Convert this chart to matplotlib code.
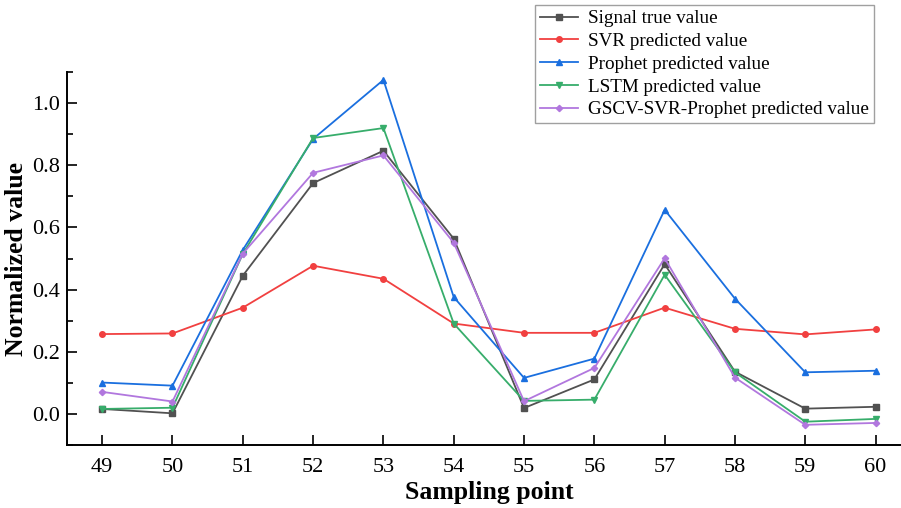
import numpy as np
from matplotlib import pyplot as plt
from matplotlib.ticker import MultipleLocator

# data
points = list(range(49, 61))
signal_true = [0.016, 0.002, 0.445, 0.743, 0.847, 0.564, 0.019, 0.111, 0.482, 0.136, 0.017, 0.023]
svr_pred = [0.257, 0.259, 0.342, 0.477, 0.435, 0.291, 0.261, 0.261, 0.342, 0.274, 0.256, 0.272]
prophet_pred = [0.101, 0.091, 0.528, 0.885, 1.075, 0.376, 0.116, 0.178, 0.657, 0.371, 0.134, 0.139]
lstm_pred = [0.016, 0.020, 0.515, 0.888, 0.920, 0.291, 0.042, 0.046, 0.448, 0.134, -0.025, -0.016]
gscv_pred = [0.071, 0.040, 0.516, 0.776, 0.832, 0.551, 0.041, 0.148, 0.501, 0.117, -0.035, -0.029]

labels = ["Signal true value", "SVR predicted value", "Prophet predicted value",
          "LSTM predicted value", "GSCV-SVR-Prophet predicted value"]
colors = ["#515151", "#F14040", "#1A6FDF", "#37AD6B", "#B177DE"]
markers = ["s", "o", "^", "v", "D"]

plt.rcParams['font.family'] = ['Liberation Serif', 'DejaVu Serif']

fig = plt.figure(figsize=(9.01, 5.08), dpi=100)
# the axes runs a little past the right edge, as in the reference
ax = fig.add_axes([0.0744, 0.124, 0.9364, 0.734])

series = [signal_true, svr_pred, prophet_pred, lstm_pred, gscv_pred]
for vals, lab, c, m in zip(series, labels, colors, markers):
    ms = 3.2 if m == "D" else 4
    ax.plot(points, vals, color=c, marker=m, markersize=ms, linewidth=1.3, label=lab)

ax.set_xlim(48.5, 60.5)
ax.set_ylim(-0.1, 1.1)
ax.set_xticks(points)
ax.yaxis.set_major_locator(MultipleLocator(0.2))
ax.yaxis.set_minor_locator(MultipleLocator(0.1))
ax.yaxis.set_major_formatter(plt.FuncFormatter(lambda v, p: f"{v:.1f}"))
ax.tick_params(axis='both', which='major', direction='in', length=7, width=1.2, labelsize=16, colors='black')
ax.tick_params(axis='y', which='minor', direction='in', length=4, width=1.2)
ax.tick_params(axis='y', pad=5)
ax.tick_params(axis='x', pad=9)
ax.spines['top'].set_visible(False)
ax.spines['right'].set_visible(False)
for s in ['left', 'bottom']:
    ax.spines[s].set_linewidth(1.4)

ax.set_xlabel("Sampling point", fontsize=18.5, fontweight='bold', labelpad=3)
ax.set_ylabel("Normalized value", fontsize=18.5, fontweight='bold', labelpad=3)

leg = fig.legend(loc='upper left', bbox_to_anchor=(0.594, 0.99), fontsize=13.8,
                 frameon=True, fancybox=False, borderpad=0.25, labelspacing=0.28,
                 handlelength=2.0, handletextpad=0.5, borderaxespad=0)
leg.get_frame().set_edgecolor('#888888')
leg.get_frame().set_linewidth(1.0)

fig.savefig("out.png", dpi=100)
